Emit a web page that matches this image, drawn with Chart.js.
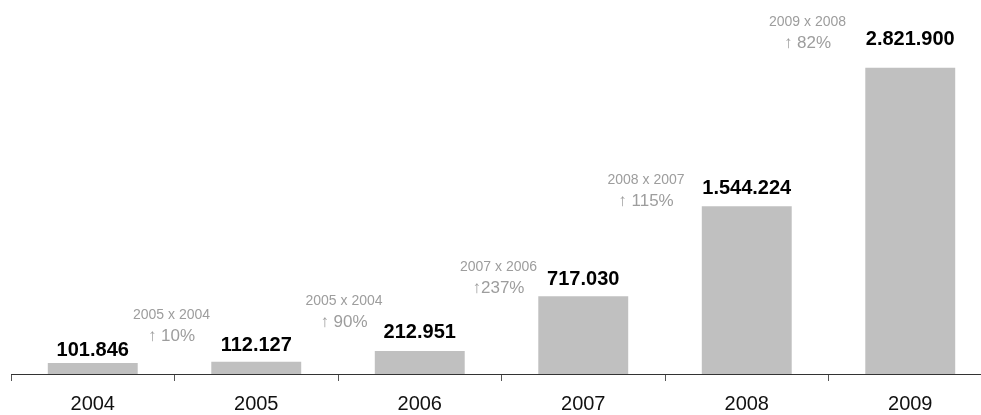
<!DOCTYPE html>
<html>
<head>
<meta charset="utf-8">
<script src="https://cdn.jsdelivr.net/npm/chart.js@4.4.1/dist/chart.umd.min.js"></script>
<style>
  html, body { margin: 0; padding: 0; background: #fff; overflow: hidden; }
  #wrap { position: relative; width: 992px; height: 427px; }
</style>
</head>
<body>
<div id="wrap"><canvas id="acessos"></canvas></div>
<script>
const years = ['2004', '2005', '2006', '2007', '2008', '2009'];
const visitors = [101846, 112127, 212951, 717030, 1544224, 2821900];
const compareLabels = ['2005 x 2004', '2005 x 2004', '2007 x 2006', '2008 x 2007', '2009 x 2008'];
const growthLabels = ['\u2191 10%', '\u2191 90%', '\u2191237%', '\u2191 115%', '\u2191 82%'];

// hand-tuned nudges for the text above the bars (pixels)
const valueLift = [7, 11, 13, 11, 12, 23];
const noteShift = [[-3, 21], [6, 24], [-3, 3], [-19, 0], [-21, 20]];

const FONT = '"Liberation Sans", Arial, sans-serif';

function formatNumber(n) {
  return String(n).replace(/\B(?=(\d{3})+(?!\d))/g, '.');
}

const barNotes = {
  id: 'barNotes',
  afterDatasetsDraw(chart) {
    const ctx = chart.ctx;
    const bars = chart.getDatasetMeta(0).data;
    ctx.save();
    ctx.textAlign = 'center';
    ctx.textBaseline = 'alphabetic';

    ctx.fillStyle = '#000';
    ctx.font = 'bold 20px ' + FONT;
    bars.forEach(function (bar, i) {
      ctx.fillText(formatNumber(visitors[i]), bar.x, bar.y - valueLift[i]);
    });

    ctx.fillStyle = '#9d9d9d';
    for (let i = 1; i < bars.length; i++) {
      const cx = (bars[i - 1].x + bars[i].x) / 2 + noteShift[i - 1][0];
      const base = bars[i].y - noteShift[i - 1][1];
      ctx.font = '17px ' + FONT;
      ctx.fillText(growthLabels[i - 1], cx, base);
      ctx.font = '14px ' + FONT;
      ctx.fillText(compareLabels[i - 1], cx, base - 22);
    }
    ctx.restore();
  }
};

let context = document.querySelector('#acessos').getContext('2d');
new Chart(context, {
  type: 'bar',
  data: {
    labels: years,
    datasets: [{
      data: visitors,
      backgroundColor: '#c0c0c0',
      borderWidth: 0,
      barPercentage: 0.55,
      categoryPercentage: 1.0
    }]
  },
  options: {
    responsive: true,
    maintainAspectRatio: false,
    animation: false,
    layout: { padding: { left: 11, right: 0, top: 0, bottom: 0 } },
    plugins: {
      legend: { display: false },
      tooltip: { enabled: false }
    },
    scales: {
      x: {
        offset: true,
        grid: {
          offset: true,
          drawOnChartArea: false,
          drawTicks: true,
          tickLength: 7,
          color: '#555'
        },
        border: { display: true, color: '#333', width: 1 },
        ticks: {
          padding: 11,
          color: '#111',
          font: { family: FONT, size: 20 }
        }
      },
      y: {
        display: false,
        min: 0,
        max: 3445000
      }
    }
  },
  plugins: [barNotes]
});
</script>
</body>
</html>
